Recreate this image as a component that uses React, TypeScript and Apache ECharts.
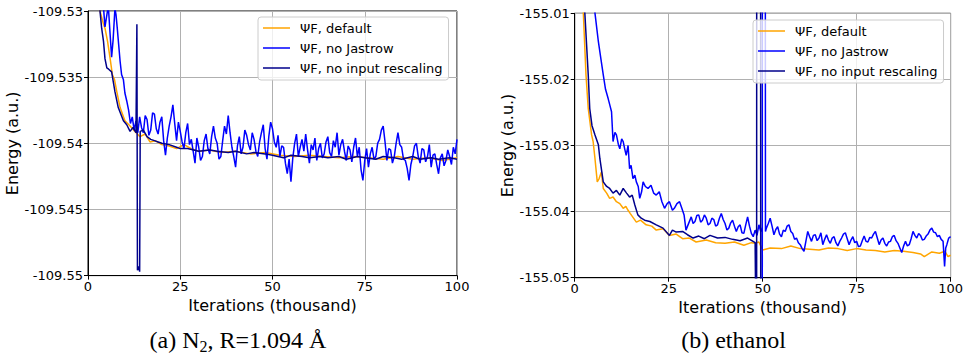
import React, { useEffect, useRef } from "react";
import * as echarts from "echarts";

// ---------- Data ----------
const seriesNames = ["ΨF, default", "ΨF, no Jastrow", "ΨF, no input rescaling"];
const xTicks = [0, 25, 50, 75, 100];
const n2YTicks = [-109.55, -109.545, -109.54, -109.535, -109.53];
const ethYTicks = [-155.05, -155.04, -155.03, -155.02, -155.01];

// (a) N2 — default
const n2DefaultX = [2, 3.25, 4.2, 4.6, 5.3, 6.0, 6.6, 7.2, 7.8, 8.7, 10, 11.4, 12.7, 14.1, 15.5, 16.8, 18.2, 20, 22, 24, 26, 28, 30, 33, 36, 40, 44, 48, 52, 56, 60, 64, 68, 72, 76, 80, 84, 88, 92, 96, 100];
const n2DefaultY = [-109.525, -109.53, -109.531, -109.5313, -109.5323, -109.5336, -109.5348, -109.5352, -109.5361, -109.5373, -109.5383, -109.5387, -109.5391, -109.5395, -109.5393, -109.5399, -109.5398, -109.5401, -109.5402, -109.5404, -109.5401, -109.5404, -109.5406, -109.5405, -109.5407, -109.5406, -109.5408, -109.5407, -109.5409, -109.541, -109.5409, -109.541, -109.5411, -109.541, -109.5411, -109.5412, -109.541, -109.5412, -109.5411, -109.5413, -109.5411];

// (a) N2 — no Jastrow
const n2NoJastrowX = [3.0, 4.0, 4.6, 5.0, 5.5, 6.0, 6.4, 6.8, 7.3, 7.6, 7.9, 8.3, 8.7, 9.1, 9.6, 10.0, 10.5, 11.0, 11.5, 12.0, 12.5,
  13, 13.5, 14, 14.5, 15, 15.5, 16, 16.5, 17, 17.5, 18, 18.5, 19, 19.5, 20, 20.5, 21, 21.5, 22, 22.5, 23, 23.5, 24, 24.5, 25, 25.5,
  26, 26.5, 27, 27.5, 28, 28.5, 29, 29.5, 30, 30.5, 31, 31.5, 32, 32.5, 33, 33.5, 34, 34.5, 35, 35.5, 36, 36.5, 37, 37.5, 38, 38.5,
  39, 39.5, 40, 40.5, 41, 41.5, 42, 42.5, 43, 43.5, 44, 44.5, 45, 45.5, 46, 46.5, 47, 47.5, 48, 48.5, 49, 49.5, 50, 50.5,
  51, 51.5, 52, 52.5, 53, 53.5, 54, 54.5, 55, 55.5, 56, 56.5, 57, 57.5, 58, 58.5, 59, 59.5, 60, 60.5, 61, 61.5, 62, 62.5,
  63, 63.5, 64, 64.5, 65, 65.5, 66, 66.5, 67, 67.5, 68, 68.5, 69, 69.5, 70, 70.5, 71, 71.5, 72, 72.5, 73, 73.5, 74, 74.5, 75, 75.5,
  76, 76.5, 77, 77.5, 78, 78.5, 79, 79.5, 80, 80.5, 81, 81.5, 82, 82.5, 83, 83.5, 84, 84.5, 85, 85.5, 86, 86.5, 87, 87.5,
  88, 88.5, 89, 89.5, 90, 90.5, 91, 91.5, 92, 92.5, 93, 93.5, 94, 94.5, 95, 95.5, 96, 96.5, 97, 97.5, 98, 98.5, 99, 99.5, 100];
const n2NoJastrowY = [-109.525, -109.529, -109.5312, -109.5305, -109.5296, -109.5318, -109.5335, -109.5322, -109.5298, -109.5303, -109.5312, -109.5325, -109.5338, -109.5348, -109.5352, -109.5362, -109.5368, -109.5375, -109.5385, -109.538, -109.539,
  -109.5383, -109.5392, -109.538, -109.5388, -109.5392, -109.5379, -109.5382, -109.5394, -109.539, -109.5377, -109.5378, -109.5389, -109.5393, -109.5384, -109.538, -109.5398, -109.5409, -109.5396, -109.5387, -109.538, -109.5371, -109.5385, -109.5398, -109.5384, -109.5391, -109.5399,
  -109.5404, -109.5392, -109.5385, -109.5401, -109.5397, -109.5406, -109.5415, -109.5396, -109.5403, -109.5413, -109.541, -109.5398, -109.5393, -109.5404, -109.5408, -109.5395, -109.5387, -109.5396, -109.54, -109.5412, -109.541, -109.5398, -109.5387, -109.5393, -109.5379, -109.5392,
  -109.5403, -109.541, -109.5418, -109.5402, -109.5395, -109.5408, -109.5403, -109.539, -109.5394, -109.5401, -109.5405, -109.5392, -109.5397, -109.5406, -109.541, -109.5399, -109.5392, -109.5386, -109.5404, -109.5412, -109.5395, -109.5384, -109.5389, -109.5399,
  -109.5403, -109.5394, -109.541, -109.5402, -109.5403, -109.5415, -109.5423, -109.5412, -109.5429, -109.5411, -109.54, -109.5393, -109.541, -109.5403, -109.5397, -109.5406, -109.5393, -109.5405, -109.5415, -109.5401, -109.5405, -109.5396, -109.5413, -109.5404,
  -109.54, -109.5411, -109.5408, -109.5399, -109.5395, -109.5407, -109.541, -109.5398, -109.5403, -109.5392, -109.5409, -109.5401, -109.5397, -109.5406, -109.5413, -109.5402, -109.5405, -109.5414, -109.5403, -109.5396, -109.541, -109.5403, -109.542, -109.5428, -109.5413, -109.5404,
  -109.5418, -109.5408, -109.5403, -109.5412, -109.541, -109.54, -109.5397, -109.539, -109.5387, -109.5399, -109.5413, -109.5404, -109.5405, -109.5415, -109.541, -109.54, -109.5392, -109.5401, -109.5403, -109.5412, -109.5413, -109.5419, -109.5428, -109.5416,
  -109.541, -109.5402, -109.54, -109.541, -109.5415, -109.5404, -109.5405, -109.5414, -109.541, -109.5401, -109.5418, -109.5409, -109.5408, -109.5416, -109.5423, -109.5411, -109.5408, -109.5417, -109.5413, -109.5405, -109.541, -109.5416, -109.5403, -109.5408, -109.5397];

// (a) N2 — no input rescaling
const n2NoRescaleX = [2, 3.25, 3.7, 4.2, 4.6, 5.1, 5.6, 6.4, 7.3, 8.2, 9.6, 10.5, 11.4, 12.2, 13.0, 13.25, 13.4, 13.7, 14.0, 14.15, 15, 16, 17, 18, 19, 20, 22, 24, 25, 27, 30, 33, 35, 38, 40, 43, 45, 48, 50, 53, 55, 58, 60, 63, 65, 68, 70, 73, 75, 78, 80, 83, 85, 88, 90, 93, 95, 98, 100];
const n2NoRescaleY = [-109.525, -109.53, -109.5313, -109.5323, -109.5336, -109.5343, -109.5344, -109.5346, -109.5361, -109.5373, -109.5383, -109.5386, -109.5391, -109.5388, -109.5392, -109.531, -109.5496, -109.5493, -109.5497, -109.5391, -109.539, -109.5395, -109.5397, -109.5398, -109.5399, -109.54, -109.5401, -109.5403, -109.5404, -109.5404, -109.5406, -109.5405, -109.5406, -109.5407, -109.5406, -109.5408, -109.5407, -109.5408, -109.5409, -109.5411, -109.5409, -109.541, -109.5411, -109.541, -109.5411, -109.541, -109.5412, -109.541, -109.5411, -109.5412, -109.541, -109.5411, -109.5412, -109.541, -109.5412, -109.5411, -109.5412, -109.5411, -109.5412];

// (b) ethanol — default
const ethDefaultX = [1.5, 2.3, 3.0, 3.6, 4.5, 4.9, 5.4, 6.0, 6.5, 7.1, 7.6, 8.5, 9.3, 10.2, 11.1, 12.0, 12.9, 13.6, 14.2, 14.8, 16.4, 17.5, 19, 20.5, 21.7, 23.5, 25.2, 27, 28.7, 30.5, 32.3, 35, 37.5, 40, 42.5, 45, 47, 48, 49, 50, 52, 55, 57.5, 60, 62.5, 65, 67.5, 70, 72.5, 75, 77.5, 80, 82.5, 85, 87.5, 90, 92, 93, 95, 97, 98.5, 99.3, 100];
const ethDefaultY = [-155.0, -155.01, -155.0193, -155.0244, -155.0284, -155.0294, -155.032, -155.0355, -155.035, -155.034, -155.0365, -155.0372, -155.038, -155.0378, -155.0385, -155.0388, -155.0395, -155.0392, -155.0398, -155.0403, -155.0416, -155.0413, -155.042, -155.0422, -155.0428, -155.0426, -155.0436, -155.0434, -155.0441, -155.044, -155.0446, -155.0443, -155.0447, -155.0448, -155.0446, -155.0451, -155.0447, -155.0448, -155.0446, -155.0458, -155.0455, -155.0456, -155.0452, -155.0456, -155.0457, -155.0458, -155.0455, -155.0456, -155.0459, -155.0456, -155.0458, -155.0459, -155.0461, -155.0459, -155.046, -155.0462, -155.0464, -155.0468, -155.0461, -155.0463, -155.046, -155.0468, -155.0466];

// (b) ethanol — no Jastrow
const ethNoJastrowX = [4.5, 5.4, 6.3, 7.0, 7.6, 8.2, 8.9, 9.4, 9.8, 10.2, 10.7, 11.1, 11.6, 12.0, 12.5, 12.9, 13.3, 13.7, 14.2, 14.6, 15.0, 15.5, 16.0, 16.4, 16.9, 17.3, 17.8, 18.2, 18.8, 19.5, 20.3, 21.0, 21.7, 22.5, 23.2, 23.9, 24.6, 25.2, 26.0, 26.5, 27.2, 27.9, 28.5, 29.1, 29.6,
  31, 31.5, 32, 32.5, 33, 33.5, 34, 34.5, 35, 35.5, 36, 36.5, 37, 37.5, 38, 38.5, 39, 39.5, 40, 40.5, 41, 41.5, 42, 42.5, 43, 43.5, 44, 44.5,
  45, 45.5, 46, 46.5, 47, 47.5, 48, 48.5, 49, 49.5, 49.85, 49.9, 49.92, 50.7, 50.75,
  51, 51.5, 52, 52.5, 53, 53.5, 54, 54.5, 55, 55.5, 56, 56.5, 57, 57.5, 58, 58.5, 59, 59.5, 60, 60.5, 61, 61.5, 62, 62.5, 63, 63.5, 64, 64.5,
  65, 65.5, 66, 66.5, 67, 67.5, 68, 68.5, 69, 69.5, 70, 70.5, 71, 71.5, 72, 72.5, 73, 73.5, 74, 74.5, 75, 75.5, 76, 76.5, 77, 77.5, 78, 78.5,
  79, 79.5, 80, 80.5, 81, 81.5, 82, 82.5, 83, 83.5, 84, 84.5, 85, 85.5, 86, 86.5, 87, 87.5, 88, 88.5, 89, 89.5, 90, 90.5, 91, 91.5, 92, 92.5,
  93, 93.5, 94, 94.5, 95, 95.5, 96, 96.5, 97, 97.5, 98, 98.4, 98.7, 99, 99.5, 100];
const ethNoJastrowY = [-155.0, -155.01, -155.0143, -155.017, -155.0193, -155.0215, -155.0229, -155.024, -155.0249, -155.0294, -155.028, -155.0284, -155.0298, -155.0305, -155.029, -155.0294, -155.0305, -155.0315, -155.03, -155.0335, -155.033, -155.035, -155.0345, -155.0355, -155.0362, -155.038, -155.037, -155.0355, -155.0362, -155.0365, -155.036, -155.0372, -155.0375, -155.037, -155.0385, -155.0395, -155.0388, -155.0385, -155.0398, -155.0395, -155.0388, -155.0385, -155.0395, -155.0405, -155.0428,
  -155.0408, -155.0418, -155.0415, -155.0406, -155.0405, -155.0416, -155.0413, -155.0405, -155.041, -155.042, -155.0418, -155.041, -155.0412, -155.0422, -155.042, -155.041, -155.0403, -155.0412, -155.0418, -155.0428, -155.0425, -155.0417, -155.0413, -155.0422, -155.043, -155.0423, -155.042, -155.0432,
  -155.0433, -155.042, -155.0408, -155.0422, -155.0433, -155.0438, -155.0428, -155.0436, -155.042, -155.043, -155.0425, -155.07, -154.99, -154.99, -155.043,
  -155.0425, -155.0418, -155.041, -155.0422, -155.0435, -155.0427, -155.0423, -155.0434, -155.0438, -155.0428, -155.043, -155.0422, -155.042, -155.043, -155.0433, -155.0442, -155.044, -155.0447, -155.045, -155.0456, -155.046, -155.0445, -155.043, -155.0438, -155.0445, -155.0436, -155.0435, -155.0444,
  -155.044, -155.0432, -155.045, -155.0442, -155.0435, -155.0443, -155.0448, -155.044, -155.0438, -155.0447, -155.0452, -155.0445, -155.044, -155.0434, -155.0432, -155.0441, -155.045, -155.0443, -155.0438, -155.0447, -155.0445, -155.0453, -155.0452, -155.0444, -155.0437, -155.0445, -155.0446, -155.0439,
  -155.044, -155.0434, -155.043, -155.044, -155.045, -155.0443, -155.044, -155.0448, -155.0452, -155.0446, -155.0445, -155.0438, -155.0436, -155.0444, -155.0448, -155.0455, -155.0462, -155.0452, -155.0445, -155.0452, -155.045, -155.0441, -155.043, -155.0436, -155.044, -155.0433, -155.0436, -155.0443,
  -155.0442, -155.0437, -155.0434, -155.0428, -155.0425, -155.0431, -155.0432, -155.0438, -155.0436, -155.0442, -155.0445, -155.0483, -155.0455, -155.045, -155.044, -155.0438];

// (b) ethanol — no input rescaling
const ethNoRescaleX = [1.5, 2.7, 3.6, 4.0, 4.6, 5.4, 6.3, 6.7, 7.6, 8.5, 9.3, 10.2, 11.1, 12.0, 12.9, 13.8, 14.6, 15.3, 16.0, 16.8, 17.7, 18.6, 20, 21.7, 23.5, 25.2, 26, 27, 28.7, 30, 31.5, 33, 34.5, 36, 38, 40, 42, 44, 46, 48, 48.4, 48.42, 49.45, 49.5];
const ethNoRescaleY = [-155.0, -155.01, -155.0193, -155.0244, -155.027, -155.0284, -155.0299, -155.032, -155.0355, -155.0362, -155.0365, -155.0372, -155.0368, -155.0375, -155.0365, -155.0372, -155.0378, -155.0375, -155.039, -155.0405, -155.041, -155.0413, -155.0415, -155.042, -155.0425, -155.0436, -155.0428, -155.0431, -155.043, -155.0435, -155.044, -155.0437, -155.0441, -155.0436, -155.044, -155.0439, -155.0442, -155.0444, -155.044, -155.0447, -155.07, -154.99, -154.99, -155.07];

const colors = ["#FFA500", "#0000FF", "#00008B"];

const zip = (xs: number[], ys: number[]) => xs.map((x, i) => [x, ys[i]]);

const SANS = "DejaVu Sans";
const SERIF = "Liberation Serif";

function makeAxes(gi: number, yTicks: number[], digits: number, yNameGap: number) {
  const common = {
    gridIndex: gi,
    type: "value" as const,
    axisLine: { show: true, onZero: false, lineStyle: { color: "#000", width: 1 } },
    axisTick: { show: true, length: 4, lineStyle: { color: "#000", width: 1 } },
    splitLine: { show: true, lineStyle: { color: "#b0b0b0", width: 1 } },
    nameLocation: "middle" as const,
    nameTextStyle: { fontSize: 16, color: "#000", fontFamily: SANS },
  };
  const x = {
    ...common,
    min: xTicks[0],
    max: xTicks[xTicks.length - 1],
    interval: xTicks[1] - xTicks[0],
    axisLabel: { fontSize: 13, color: "#000", fontFamily: SANS, margin: 4 },
    name: "Iterations (thousand)",
    nameGap: 18,
  };
  const y = {
    ...common,
    min: yTicks[0],
    max: yTicks[yTicks.length - 1],
    interval: +(yTicks[1] - yTicks[0]).toFixed(4),
    axisLabel: {
      fontSize: 13,
      color: "#000",
      fontFamily: SANS,
      margin: 5,
      formatter: (v: number) => {
        let s = v.toFixed(digits);
        s = s.replace(/0+$/, "").replace(/\.$/, "");
        return s;
      },
    },
    name: "Energy (a.u.)",
    nameGap: yNameGap,
  };
  return { x, y };
}

function lineSeries(name: string, data: number[][], color: string, gi: number) {
  return {
    type: "line",
    name,
    data,
    xAxisIndex: gi,
    yAxisIndex: gi,
    symbol: "none",
    showSymbol: false,
    clip: true,
    lineStyle: { color, width: 1.5 },
    itemStyle: { color },
    emphasis: { disabled: true },
  };
}

function legendAt(left: number, top: number) {
  return {
    orient: "vertical",
    left,
    top,
    data: seriesNames,
    icon: "rect",
    itemWidth: 27,
    itemHeight: 1.5,
    itemGap: 6,
    padding: [4, 6, 5, 5],
    selectedMode: false,
    backgroundColor: "rgba(255,255,255,0.8)",
    borderColor: "#cccccc",
    borderWidth: 1,
    borderRadius: 3,
    textStyle: { fontSize: 13, color: "#000", fontFamily: SANS, lineHeight: 14, padding: [0, 0, 0, 5] },
  };
}

export default function App() {
  const ref = useRef<HTMLDivElement>(null);
  useEffect(() => {
    if (!ref.current) return;
    const chart = echarts.init(ref.current, undefined, { renderer: "svg" });
    const a = makeAxes(0, n2YTicks, 3, 57);
    const b = makeAxes(1, ethYTicks, 2, 50);
    const option = {
      animation: false,
      textStyle: { fontFamily: SANS },
      grid: [
        { left: 88, top: 11, width: 369, height: 264.6, show: true, borderColor: "#000", borderWidth: 1, backgroundColor: "transparent" },
        { left: 574.7, top: 13.3, width: 378, height: 264.4, show: true, borderColor: "#000", borderWidth: 1, backgroundColor: "transparent" },
      ],
      xAxis: [a.x, b.x],
      yAxis: [a.y, b.y],
      legend: [legendAt(258, 17), legendAt(753, 20)],
      series: [
        lineSeries(seriesNames[0], zip(n2DefaultX, n2DefaultY), colors[0], 0),
        lineSeries(seriesNames[1], zip(n2NoJastrowX, n2NoJastrowY), colors[1], 0),
        lineSeries(seriesNames[2], zip(n2NoRescaleX, n2NoRescaleY), colors[2], 0),
        lineSeries(seriesNames[0], zip(ethDefaultX, ethDefaultY), colors[0], 1),
        lineSeries(seriesNames[1], zip(ethNoJastrowX, ethNoJastrowY), colors[1], 1),
        lineSeries(seriesNames[2], zip(ethNoRescaleX, ethNoRescaleY), colors[2], 1),
      ],
      graphic: [
        {
          type: "text",
          x: 238,
          y: 340,
          style: {
            text: "{m|(a) N}{s|2}{m|, R=1.094 Å}",
            align: "center",
            verticalAlign: "middle",
            rich: {
              m: { fontSize: 24, fontFamily: SERIF, fill: "#000", lineHeight: 28 },
              s: { fontSize: 16, fontFamily: SERIF, fill: "#000", lineHeight: 16, verticalAlign: "bottom" },
            },
          },
        },
        {
          type: "text",
          x: 733.5,
          y: 340,
          style: {
            text: "(b) ethanol",
            align: "center",
            verticalAlign: "middle",
            font: `24px "${SERIF}"`,
            fill: "#000",
          },
        },
      ],
    };
    chart.setOption(option as any);
    return () => chart.dispose();
  }, []);
  return (
    <div
      ref={ref}
      style={{ position: "fixed", left: 0, top: 0, width: 966, height: 355, background: "#fff" }}
    />
  );
}
